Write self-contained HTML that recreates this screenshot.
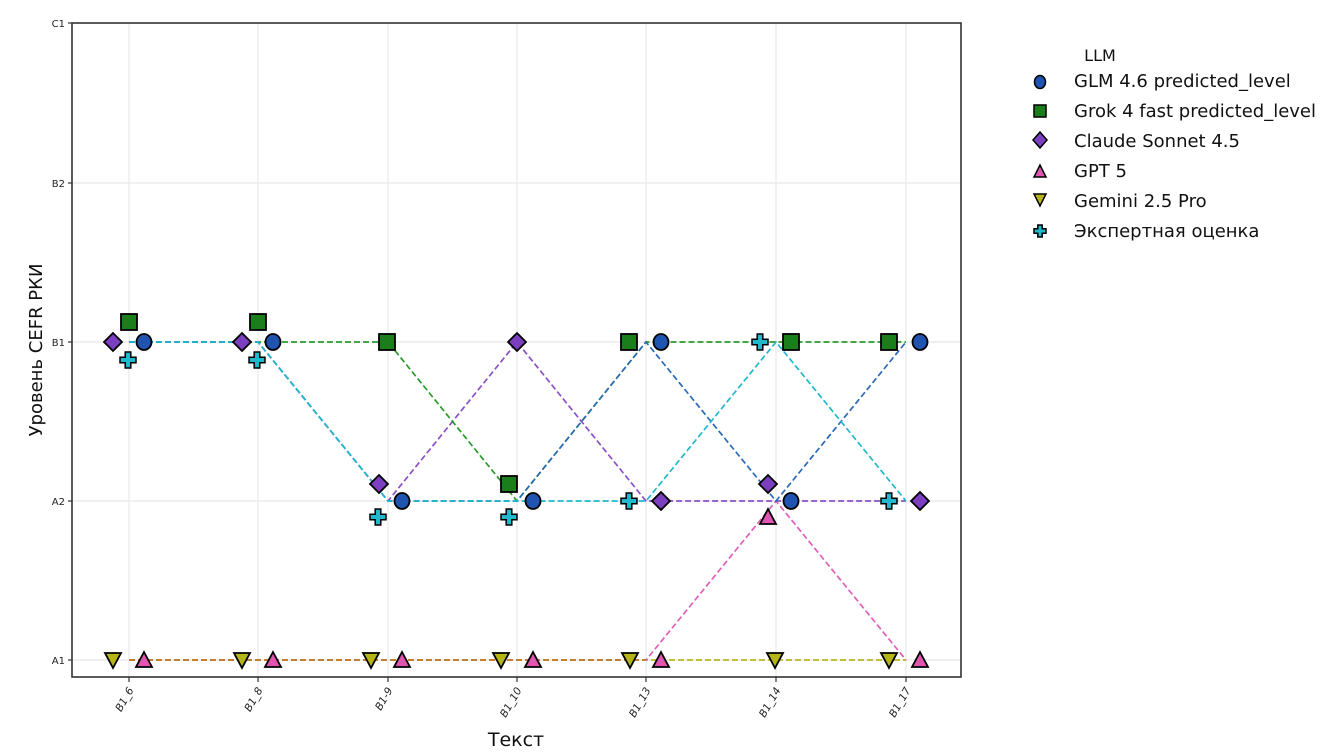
<!DOCTYPE html>
<html><head><meta charset="utf-8"><style>
html,body{margin:0;padding:0;background:#fff;}
svg{display:block;font-family:"DejaVu Sans","Liberation Sans",sans-serif;}
</style></head><body>
<svg width="1333" height="754" viewBox="0 0 1333 754" xmlns="http://www.w3.org/2000/svg">
<defs>
<path id="cr" d="M-2.8,-8 H2.8 V-2.8 H8 V2.8 H2.8 V8 H-2.8 V2.8 H-8 V-2.8 H-2.8 Z"/>
<path id="dm" d="M0,-9 L9,0 L0,9 L-9,0 Z"/>
<path id="tu" d="M-8,7 L8,7 L0,-8 Z"/>
<path id="td" d="M-8,-7 L8,-7 L0,8 Z"/>
<rect id="sq" x="-8" y="-8" width="16" height="16"/>
<ellipse id="ci" cx="0" cy="0" rx="7.5" ry="8"/>
</defs>
<g stroke="#e8e8e8" stroke-width="1.2">
<line x1="129" y1="23" x2="129" y2="677"/><line x1="258" y1="23" x2="258" y2="677"/>
<line x1="388" y1="23" x2="388" y2="677"/><line x1="517" y1="23" x2="517" y2="677"/>
<line x1="646" y1="23" x2="646" y2="677"/><line x1="776" y1="23" x2="776" y2="677"/>
<line x1="906" y1="23" x2="906" y2="677"/>
<line x1="72" y1="183" x2="961" y2="183"/><line x1="72" y1="342" x2="961" y2="342"/>
<line x1="72" y1="501" x2="961" y2="501"/><line x1="72" y1="660" x2="961" y2="660"/>
</g>
<g fill="none" stroke-width="1.7" stroke-dasharray="6,3">
<polyline stroke="#b8b820" points="129,660 258,660 388,660 517,660 646,660 776,660 906,660"/>
<polyline stroke="#e060b8" points="129,660 258,660 388,660 517,660 646,660 776,501 906,660"/>
<polyline stroke="#c08020" points="129,660 646,660"/>
<polyline stroke="#8a50c8" points="129,342 258,342 388,501 517,342 646,501 776,501 906,501"/>
<polyline stroke="#2a9a2a" points="129,342 258,342 388,342 517,501 646,342 776,342 906,342"/>
<polyline stroke="#2a6ab8" points="129,342 258,342 388,501 517,501 646,342 776,501 906,342"/>
<polyline stroke="#20b8cc" points="129,342 258,342 388,501 517,501 646,501 776,342 906,501"/>
</g>
<rect x="72" y="23" width="889" height="654" fill="none" stroke="#333" stroke-width="1.6"/>
<g stroke="#333" stroke-width="1.2">
<line x1="68" y1="23" x2="72" y2="23"/><line x1="68" y1="183" x2="72" y2="183"/><line x1="68" y1="342" x2="72" y2="342"/><line x1="68" y1="501" x2="72" y2="501"/><line x1="68" y1="660" x2="72" y2="660"/>
<line x1="129" y1="677" x2="129" y2="682"/><line x1="258" y1="677" x2="258" y2="682"/><line x1="388" y1="677" x2="388" y2="682"/><line x1="517" y1="677" x2="517" y2="682"/><line x1="646" y1="677" x2="646" y2="682"/><line x1="776" y1="677" x2="776" y2="682"/><line x1="906" y1="677" x2="906" y2="682"/>
</g>
<g font-size="10" fill="#222" text-anchor="end">
<text x="65" y="27">C1</text><text x="65" y="187">B2</text><text x="65" y="346">B1</text><text x="65" y="505">A2</text><text x="65" y="664">A1</text>
</g>
<g font-size="10.5" fill="#222" text-anchor="end" font-style="italic">
<text transform="translate(134,690) rotate(-60)">B1_6</text>
<text transform="translate(263,690) rotate(-60)">B1_8</text>
<text transform="translate(393,690) rotate(-60)">B1-9</text>
<text transform="translate(522,690) rotate(-60)">B1_10</text>
<text transform="translate(651,690) rotate(-60)">B1_13</text>
<text transform="translate(781,690) rotate(-60)">B1_14</text>
<text transform="translate(911,690) rotate(-60)">B1_17</text>
</g>
<text x="516" y="746" font-size="19" text-anchor="middle" fill="#111">Текст</text>
<text transform="translate(42,350) rotate(-90)" font-size="18" text-anchor="middle" fill="#111">Уровень CEFR РКИ</text>

<g stroke="#000" stroke-width="1.8">
<g fill="#b5b518">
<use href="#td" x="113" y="660"/><use href="#td" x="242" y="660"/><use href="#td" x="371" y="660"/><use href="#td" x="501" y="660"/><use href="#td" x="630" y="660"/><use href="#td" x="775" y="660"/><use href="#td" x="889" y="660"/>
</g>
<g fill="#e055b0">
<use href="#tu" x="144" y="660"/><use href="#tu" x="273" y="660"/><use href="#tu" x="402" y="660"/><use href="#tu" x="533" y="660"/><use href="#tu" x="661" y="660"/><use href="#tu" x="768" y="517"/><use href="#tu" x="920" y="660"/>
</g>
<g fill="#1a7f1a">
<use href="#sq" x="129" y="322"/><use href="#sq" x="258" y="322"/><use href="#sq" x="387" y="342"/><use href="#sq" x="509" y="484"/><use href="#sq" x="629" y="342"/><use href="#sq" x="791" y="342"/><use href="#sq" x="889" y="342"/>
</g>
<g fill="#7b3fbf">
<use href="#dm" x="113" y="342"/><use href="#dm" x="242" y="342"/><use href="#dm" x="379" y="484"/><use href="#dm" x="517" y="342"/><use href="#dm" x="661" y="501"/><use href="#dm" x="768" y="484"/><use href="#dm" x="920" y="501"/>
</g>
<g fill="#1f55b0">
<use href="#ci" x="144" y="342"/><use href="#ci" x="273" y="342"/><use href="#ci" x="402" y="501"/><use href="#ci" x="533" y="501"/><use href="#ci" x="661" y="342"/><use href="#ci" x="791" y="501"/><use href="#ci" x="920" y="342"/>
</g>
<g fill="#20b8cc" stroke-width="1.5">
<use href="#cr" x="128" y="360"/><use href="#cr" x="257" y="360"/><use href="#cr" x="378" y="517"/><use href="#cr" x="509" y="517"/><use href="#cr" x="629" y="501"/><use href="#cr" x="760" y="342"/><use href="#cr" x="889" y="501"/>
</g>
</g>

<text x="1100" y="61" font-size="16" text-anchor="middle" fill="#111">LLM</text>
<g font-size="18" fill="#111">
<text x="1074" y="87">GLM 4.6 predicted_level</text>
<text x="1074" y="117">Grok 4 fast predicted_level</text>
<text x="1074" y="147">Claude Sonnet 4.5</text>
<text x="1074" y="177">GPT 5</text>
<text x="1074" y="207">Gemini 2.5 Pro</text>
<text x="1074" y="237">Экспертная оценка</text>
</g>
<g stroke="#000" stroke-width="1.5">
<ellipse cx="1040" cy="82" rx="5.5" ry="6.5" fill="#1f55b0"/>
<rect x="1034" y="105" width="12" height="12" fill="#1a7f1a"/>
<path d="M1040,132 L1047,140 L1040,148 L1033,140 Z" fill="#7b3fbf"/>
<path d="M1034,177 L1046,177 L1040,165 Z" fill="#e055b0"/>
<path d="M1034,194 L1046,194 L1040,206 Z" fill="#b5b518"/>
<path d="M-2.2,-6 H2.2 V-2.2 H6 V2.2 H2.2 V6 H-2.2 V2.2 H-6 V-2.2 H-2.2 Z" transform="translate(1040,231)" fill="#20b8cc"/>
</g>
</svg>
</body></html>
